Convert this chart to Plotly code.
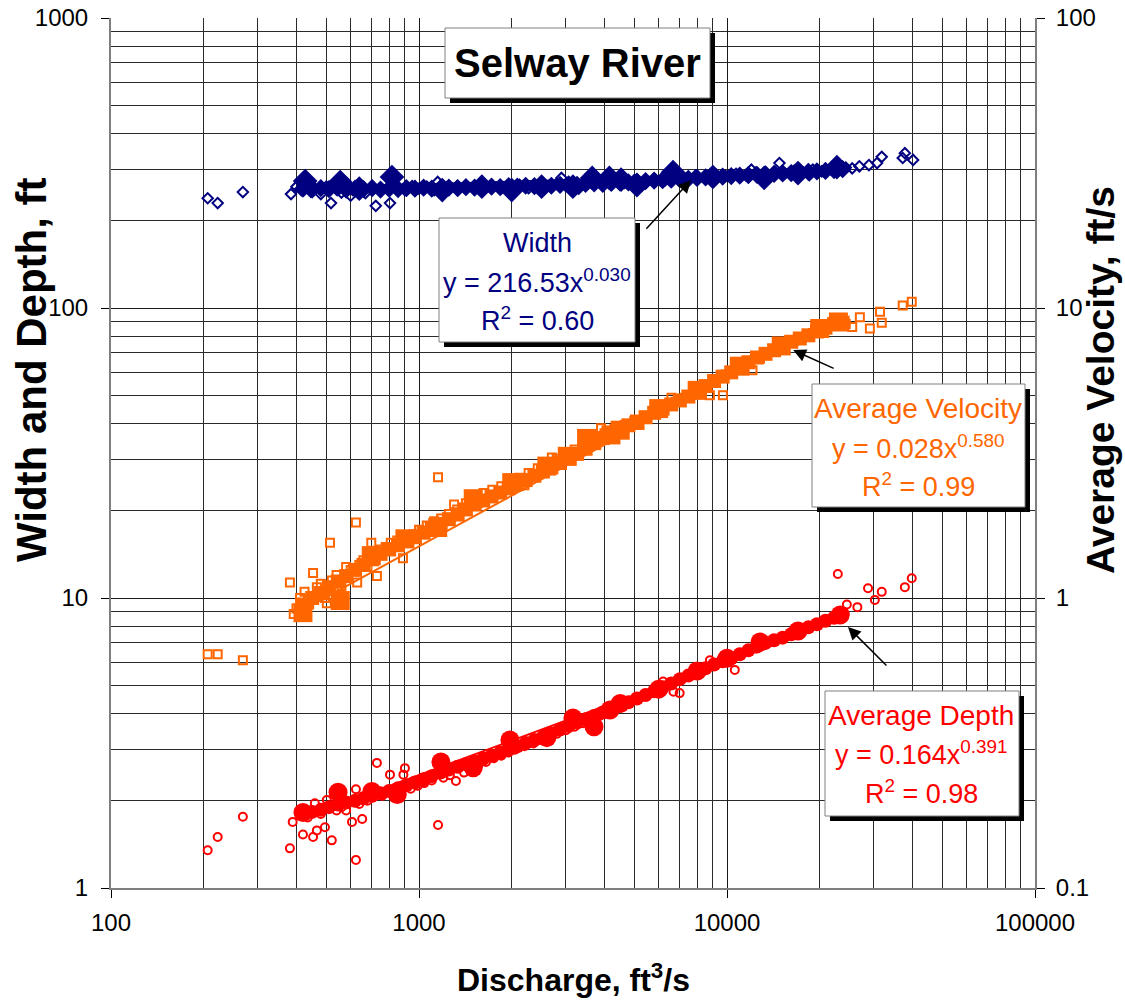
import math
import plotly.graph_objects as go

# ---------------- data ----------------
x_tick_vals = [100, 1000, 10000, 100000]
x_tick_text = ["100", "1000", "10000", "100000"]
y_tick_vals = [1, 10, 100, 1000]
y_tick_text = ["1", "10", "100", "1000"]
y2_tick_vals = [0.1, 1, 10, 100]
y2_tick_text = ["0.1", "1", "10", "100"]

# Width, ft (open diamonds)
width_q = [206, 222, 268, 384, 400, 415, 430, 445, 460, 480,
           500, 518, 540, 560, 585, 610, 640, 670, 700, 724,
           760, 805, 850, 900, 950, 1000, 1060, 1120, 1180, 1250,
           1330, 1420, 1520, 1620, 1730, 1850, 1980, 2120, 2270, 2430,
           2600, 2800, 3000, 3200, 3450, 3700, 4000, 4300, 4650, 5000,
           5400, 5800, 6300, 6800, 7300, 7900, 8500, 9200, 9900, 10700,
           11500, 12400, 13300, 14300, 15400, 16500, 17700, 19000, 20300, 21700,
           23000, 24300, 25500, 26900, 28900, 30700, 31800, 37200, 37800, 40200,
           560, 1150, 2900, 6700, 14800, 9000, 3300, 12000, 18500, 600]
width_ft = [239, 230, 251, 247, 262, 255, 268, 252, 258, 247,
            262, 230, 256, 250, 266, 255, 258, 249, 262, 225,
            256, 230, 260, 255, 263, 258, 262, 255, 260, 257,
            263, 258, 262, 256, 263, 259, 262, 266, 259, 265,
            262, 268, 263, 270, 266, 272, 268, 275, 270, 276,
            273, 279, 276, 283, 280, 286, 283, 289, 285, 290,
            287, 293, 289, 295, 291, 297, 293, 300, 296, 302,
            298, 305, 303, 308, 311, 316, 332, 329, 342, 324,
            270, 272, 281, 296, 316, 276, 258, 300, 287, 244]
# Width, ft (heavy filled diamonds)
width_q_heavy = [427, 555, 640, 817, 1190, 1600, 2000, 2500, 3160, 3650,
                 4150, 4530, 5100, 6680, 9000, 13200, 17000, 22740]
width_ft_heavy = [274, 272, 258, 283, 255, 262, 255, 262, 262, 281,
                  281, 277, 265, 294, 283, 281, 292, 306]
width_trend_q = [420, 23300]
width_trend_ft = [260, 294]

# Dense core of the measurements (discharge, ft3/s) and the three responses
band_q = [420, 450, 480, 510, 545, 580, 620, 660,
          705, 750, 800, 855, 910, 970, 1035, 1100,
          1175, 1250, 1335, 1420, 1515, 1615, 1720, 1835,
          1955, 2085, 2220, 2370, 2525, 2690, 2870, 3060,
          3260, 3475, 3705, 3950, 4210, 4490, 4785, 5100,
          5440, 5800, 6180, 6590, 7030, 7490, 7990, 8520,
          9080, 9680, 10320, 11000, 11730, 12510, 13340, 14220,
          15160, 16160, 17230, 18370, 19590, 20880, 22260, 23740]
band_width_ft = [258, 256, 259, 257, 260, 256, 258, 257,
                 259, 256, 258, 257, 259, 258, 260, 258,
                 259, 260, 259, 261, 260, 261, 262, 261,
                 263, 262, 264, 263, 265, 264, 266, 267,
                 266, 268, 269, 268, 270, 271, 271, 273,
                 274, 275, 276, 277, 278, 279, 281, 282,
                 283, 284, 285, 286, 287, 288, 289, 290,
                 291, 292, 294, 295, 296, 297, 299, 301]
band_vel_fps = [0.95, 1.0, 1.04, 1.09, 1.14, 1.19, 1.25, 1.3,
                1.36, 1.42, 1.47, 1.52, 1.57, 1.62, 1.68, 1.74,
                1.8, 1.87, 1.94, 2.02, 2.1, 2.17, 2.24, 2.31,
                2.39, 2.47, 2.55, 2.64, 2.73, 2.82, 2.92, 3.03,
                3.14, 3.27, 3.42, 3.56, 3.7, 3.82, 3.94, 4.06,
                4.2, 4.35, 4.5, 4.65, 4.8, 4.95, 5.15, 5.38,
                5.6, 5.8, 6.0, 6.25, 6.5, 6.75, 6.95, 7.15,
                7.4, 7.65, 7.85, 8.05, 8.3, 8.55, 8.8, 8.9]
band_depth_ft = [1.8, 1.83, 1.86, 1.9, 1.94, 1.97, 2.0, 2.04,
                 2.08, 2.12, 2.16, 2.21, 2.26, 2.31, 2.37, 2.43,
                 2.5, 2.56, 2.62, 2.67, 2.73, 2.79, 2.86, 2.93,
                 3.0, 3.08, 3.16, 3.24, 3.32, 3.42, 3.52, 3.62,
                 3.72, 3.82, 3.92, 4.03, 4.13, 4.25, 4.37, 4.5,
                 4.63, 4.77, 4.92, 5.07, 5.25, 5.4, 5.55, 5.72,
                 5.9, 6.05, 6.2, 6.4, 6.6, 6.8, 7.0, 7.15,
                 7.3, 7.5, 7.72, 7.92, 8.12, 8.35, 8.55, 8.8]

# Average velocity, ft/s (open squares, right axis)
vel_q = [206, 222, 268, 381, 392, 400, 411, 425, 440, 453,
         466, 480, 495, 502, 514, 521, 540, 560, 580, 600,
         624, 630, 640, 660, 680, 700, 730, 747, 780, 810,
         850, 887, 920, 960, 1000, 1060, 1120, 1153, 1180, 1250,
         1330, 1420, 1520, 1620, 1730, 1850, 1980, 2120, 2270, 2430,
         2600, 2800, 3000, 3200, 3450, 3700, 4000, 4300, 4650, 5000,
         5400, 5800, 6300, 6800, 7300, 7900, 8500, 9200, 9700, 9900,
         10600, 11500, 12100, 12400, 13300, 14300, 15400, 16500, 17700, 19000,
         20300, 21700, 23000, 24300, 25500, 27000, 29100, 31400, 31800, 37200,
         39800, 700, 1300, 2200, 3900, 5200, 6600, 8800, 12800, 2700]
vel_fps = [0.64, 0.64, 0.61, 1.13, 0.88, 0.92, 1.0, 1.05, 0.95, 1.22,
           1.09, 1.12, 1.0, 0.96, 1.55, 1.15, 1.2, 1.1, 1.28, 1.25,
           1.82, 1.13, 1.3, 1.35, 1.28, 1.42, 1.19, 1.47, 1.5, 1.55,
           1.58, 1.37, 1.62, 1.66, 1.72, 1.78, 1.84, 2.61, 1.88, 1.95,
           2.02, 2.12, 2.22, 2.3, 2.36, 2.43, 2.5, 2.6, 2.7, 2.8,
           2.9, 3.02, 3.12, 3.25, 3.4, 3.55, 3.7, 3.82, 3.95, 4.08,
           4.25, 4.4, 4.6, 4.75, 4.9, 5.1, 5.35, 5.65, 5.0, 5.9,
           6.5, 6.5, 6.1, 6.75, 6.95, 7.2, 7.45, 7.7, 7.95, 8.2,
           8.45, 8.7, 8.9, 8.8, 8.6, 9.3, 8.5, 9.7, 8.9, 10.2,
           10.5, 1.55, 2.1, 2.45, 3.85, 3.95, 4.9, 5.0, 6.7, 3.05]
vel_q_heavy = [420, 555, 700, 900, 1150, 1500, 2000, 2600, 3030, 3500,
               4200, 4500, 6000, 8000, 11000, 15000, 20000, 23000]
vel_fps_heavy = [0.89, 0.98, 1.4, 1.6, 1.75, 2.2, 2.5, 2.85, 3.08, 3.55,
                 3.65, 3.79, 4.5, 5.2, 6.3, 7.4, 8.5, 8.95]
vel_trend_q = [420, 23300]
vel_trend_fps = [0.91, 9.4]

# Average depth, ft (open circles)
depth_q = [206, 222, 268, 381, 389, 420, 435, 453, 459, 466,
           480, 495, 502, 521, 540, 560, 580, 606, 624, 624,
           640, 654, 680, 700, 730, 760, 805, 830, 870, 890,
           900, 940, 990, 1040, 1100, 1153, 1200, 1260, 1318, 1400,
           1480, 1560, 1650, 1750, 1850, 1950, 2050, 2200, 2350, 2500,
           2650, 2800, 3000, 3200, 3400, 3600, 3850, 4100, 4400, 4700,
           5000, 5300, 5630, 6100, 6200, 6500, 6800, 7020, 7200, 7600,
           8000, 8500, 9000, 9290, 9800, 10300, 10600, 11000, 11700, 12400,
           13200, 14000, 15000, 16000, 17300, 18500, 19800, 21000, 22000, 22900,
           23300, 24500, 26500, 28700, 30200, 31800, 37800, 39800, 6700, 8800]
depth_ft = [1.35, 1.50, 1.76, 1.37, 1.69, 1.53, 1.75, 1.50, 1.96, 1.58,
            1.8, 1.62, 2.01, 1.46, 1.85, 1.9, 1.85, 1.69, 1.25, 2.19,
            1.95, 1.73, 2.0, 2.05, 2.70, 2.08, 2.46, 2.1, 2.15, 2.46,
            2.59, 2.2, 2.25, 2.3, 2.35, 1.65, 2.4, 2.45, 2.34, 2.5,
            2.6, 2.66, 2.72, 2.8, 2.86, 2.93, 3.0, 3.08, 3.15, 3.23,
            3.32, 3.4, 3.5, 3.6, 3.7, 3.8, 3.92, 4.05, 4.18, 4.32,
            4.45, 4.57, 4.7, 4.9, 5.15, 5.0, 5.15, 4.7, 5.3, 5.45,
            5.6, 5.7, 5.85, 5.97, 6.05, 6.2, 5.65, 6.35, 6.55, 6.7,
            6.9, 7.05, 7.25, 7.45, 7.76, 7.95, 8.2, 8.4, 8.55, 12.1,
            8.74, 9.5, 9.3, 10.8, 9.85, 10.5, 10.9, 11.7, 4.75, 6.1]
depth_q_heavy = [420, 546, 703, 850, 1178, 1500, 1973, 2600, 3160, 3700,
                 4170, 4500, 6000, 8000, 10000, 12800, 17000, 23300]
depth_ft_heavy = [1.82, 2.14, 2.15, 2.1, 2.72, 2.6, 3.24, 3.3, 3.86, 3.6,
                  4.11, 4.33, 4.85, 5.6, 6.2, 7.05, 7.7, 8.74]
depth_trend_q = [420, 23300]
depth_trend_ft = [1.74, 8.5]

# Arrow tips (data units) pointing at each fitted curve
width_arrow_tip = (7640, 276)
vel_arrow_tip = (16400, 7.16)
depth_arrow_tip = (24700, 7.94)

# ---------------- styling ----------------
NAVY = "#000080"
ORANGE = "#FF6600"
RED = "#FF0000"
FONT = "Liberation Sans, Arial, sans-serif"

W, H = 1125, 1004
L, R, T, B = 111, 1035, 18, 888


def px(x):
    return (x - L) / (R - L)


def py(y):
    return (B - y) / (B - T)


fig = go.Figure()


def add_series(q, v, bq, bv, qh, vh, tq, tv, color, sym, yaxis):
    fig.add_trace(go.Scatter(x=q, y=v, mode="markers", yaxis=yaxis,
                             marker=dict(symbol=sym + "-open", size=8, color=color,
                                         line=dict(width=2, color=color)),
                             showlegend=False, hoverinfo="x+y"))
    fig.add_trace(go.Scatter(x=tq, y=tv, mode="lines", yaxis=yaxis,
                             line=dict(color=color, width=2),
                             showlegend=False, hoverinfo="skip"))
    fig.add_trace(go.Scatter(x=bq, y=bv, mode="markers", yaxis=yaxis,
                             marker=dict(symbol=sym, size=14, color=color, line=dict(width=0)),
                             showlegend=False, hoverinfo="x+y"))
    fig.add_trace(go.Scatter(x=qh, y=vh, mode="markers", yaxis=yaxis,
                             marker=dict(symbol=sym, size=19, color=color, line=dict(width=0)),
                             showlegend=False, hoverinfo="x+y"))


add_series(width_q, width_ft, band_q, band_width_ft, width_q_heavy, width_ft_heavy,
           width_trend_q, width_trend_ft, NAVY, "diamond", "y")
add_series(vel_q, vel_fps, band_q, band_vel_fps, vel_q_heavy, vel_fps_heavy,
           vel_trend_q, vel_trend_fps, ORANGE, "square", "y2")
add_series(depth_q, depth_ft, band_q, band_depth_ft, depth_q_heavy, depth_ft_heavy,
           depth_trend_q, depth_trend_ft, RED, "circle", "y")

grid_major = "#1a1a1a"
grid_minor = "#2a2a2a"
axis_line = "#7f7f7f"

fig.update_layout(
    width=W, height=H,
    margin=dict(l=L, r=W - R, t=T, b=H - B, pad=0, autoexpand=False),
    paper_bgcolor="white", plot_bgcolor="white",
    showlegend=False,
    font=dict(family=FONT, color="black"),
    xaxis=dict(type="log", range=[2, 5], tickmode="array",
               tickvals=x_tick_vals, ticktext=x_tick_text, automargin=False,
               showgrid=True, gridcolor=grid_major, gridwidth=1,
               minor=dict(dtick="D1", showgrid=True, gridcolor=grid_minor, gridwidth=1, ticks=""),
               ticks="outside", ticklen=8, tickcolor="black", tickwidth=1,
               showline=True, linecolor=axis_line, linewidth=2,
               tickfont=dict(size=24, family=FONT), ticklabelstandoff=4,
               zeroline=False),
    yaxis=dict(type="log", range=[0, 3], tickmode="array",
               tickvals=y_tick_vals, ticktext=y_tick_text, automargin=False,
               showgrid=True, gridcolor=grid_major, gridwidth=1,
               minor=dict(dtick="D1", showgrid=True, gridcolor=grid_minor, gridwidth=1, ticks=""),
               ticks="outside", ticklen=8, tickcolor="black", tickwidth=1,
               showline=True, linecolor=axis_line, linewidth=2,
               tickfont=dict(size=24, family=FONT), ticklabelstandoff=8,
               zeroline=False),
    yaxis2=dict(type="log", range=[-1, 2], tickmode="array",
                tickvals=y2_tick_vals, ticktext=y2_tick_text, automargin=False,
                overlaying="y", side="right", showgrid=False,
                ticks="outside", ticklen=8, tickcolor="black", tickwidth=1,
                showline=True, linecolor=axis_line, linewidth=2,
                tickfont=dict(size=24, family=FONT), ticklabelstandoff=6,
                zeroline=False),
)

shapes = []
annotations = []


def add_box(x0, y0, x1, y1, shadow=5):
    shapes.append(dict(type="rect", xref="paper", yref="paper", layer="above",
                       x0=px(x0 + shadow), x1=px(x1 + shadow), y0=py(y1 + shadow), y1=py(y0 + shadow),
                       fillcolor="black", line=dict(width=0)))
    shapes.append(dict(type="rect", xref="paper", yref="paper", layer="above",
                       x0=px(x0), x1=px(x1), y0=py(y1), y1=py(y0),
                       fillcolor="white", line=dict(color="#808080", width=1)))


def add_text(x, y, text, size, color="black", bold=False, angle=0):
    annotations.append(dict(xref="paper", yref="paper", x=px(x), y=py(y), text=text,
                            showarrow=False, xanchor="center", yanchor="middle",
                            textangle=angle,
                            font=dict(family=FONT, size=size, color=color,
                                      weight="bold" if bold else "normal")))


# Title box
add_box(445, 28, 710, 98)
add_text(577, 63, "Selway River", 40, bold=True)

# Width box
add_box(439, 218, 635, 342)
add_text(537, 243, "Width", 27, NAVY)
add_text(537, 281, "y = 216.53x<sup>0.030</sup>", 27, NAVY)
add_text(537, 319, "R<sup>2</sup> = 0.60", 27, NAVY)

# Velocity box
add_box(812, 384, 1025, 507)
add_text(918, 408, "Average Velocity", 28, ORANGE)
add_text(918, 447, "y = 0.028x<sup>0.580</sup>", 27, ORANGE)
add_text(918, 485, "R<sup>2</sup> = 0.99", 27, ORANGE)

# Depth box
add_box(825, 691, 1019, 816)
add_text(921, 715, "Average Depth", 28, RED)
add_text(921, 753, "y = 0.164x<sup>0.391</sup>", 27, RED)
add_text(921, 792, "R<sup>2</sup> = 0.98", 27, RED)

# Axis titles
add_text(573, 978, "Discharge, ft<sup>3</sup>/s", 32, bold=True)
add_text(31, 370, "Width and Depth, ft", 42, bold=True, angle=-90)
add_text(1100, 380, "Average Velocity, ft/s", 39, bold=True, angle=-90)

# Arrows
arrow_style = dict(showarrow=True, arrowhead=2, arrowsize=1.7, arrowwidth=1.5,
                   arrowcolor="black", text="", axref="pixel", ayref="pixel")
annotations.append(dict(x=math.log10(width_arrow_tip[0]), y=math.log10(width_arrow_tip[1]),
                        xref="x", yref="y", ax=-46, ay=50, **arrow_style))
annotations.append(dict(x=math.log10(vel_arrow_tip[0]), y=math.log10(vel_arrow_tip[1]),
                        xref="x", yref="y2", ax=42, ay=19, **arrow_style))
annotations.append(dict(x=math.log10(depth_arrow_tip[0]), y=math.log10(depth_arrow_tip[1]),
                        xref="x", yref="y", ax=40, ay=40, **arrow_style))

fig.update_layout(shapes=shapes, annotations=annotations)

fig.write_html("out.html", config={"displayModeBar": False},
               post_script="document.body.style.margin='0';")
